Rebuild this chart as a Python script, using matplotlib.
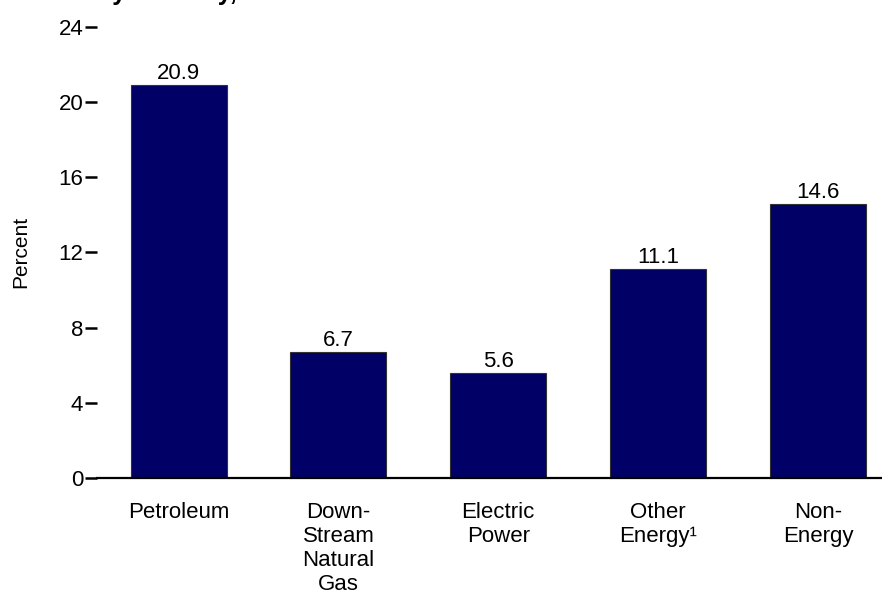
import matplotlib
matplotlib.use("Agg")
import matplotlib.pyplot as plt

plt.rcParams['font.family'] = ['Liberation Sans', 'DejaVu Sans']

# Data
categories = ["Petroleum", "Down-\nStream\nNatural\nGas", "Electric\nPower",
              "Other\nEnergy\u00b9", "Non-\nEnergy"]
values = [20.9, 6.7, 5.6, 11.1, 14.6]
y_ticks = [0, 4, 8, 12, 16, 20, 24]

bar_color = "#000066"

# Figure and axes
fig = plt.figure(figsize=(8.82, 5.96), dpi=100)
ax = fig.add_axes([0.110, 0.198, 0.890, 0.757])

x = list(range(len(values)))
bars = ax.bar(x, values, width=0.6, color=bar_color, edgecolor="#333333", linewidth=0.8)

# Value labels on top of bars
for xi, v in zip(x, values):
    ax.text(xi, v + 0.05, f"{v:.1f}", ha="center", va="bottom", fontsize=16)

ax.set_xlim(-0.51, 4.40)
ax.set_ylim(0, 24)
ax.set_yticks(y_ticks)
ax.set_yticklabels([str(t) for t in y_ticks], fontsize=16)
ax.set_xticks(x)
ax.set_xticklabels(categories, fontsize=16, linespacing=1.2)

ax.tick_params(axis="y", length=9, width=1.8, pad=1)
ax.tick_params(axis="x", length=0, pad=17)

for side in ["left", "right", "top"]:
    ax.spines[side].set_visible(False)
ax.spines["bottom"].set_linewidth(1.6)

ax.set_ylabel("Percent", fontsize=15, labelpad=20)

# Title, mostly cut off at the top of the image
fig.text(0.110, 1.0, "by Industry,", fontsize=18, fontweight="bold",
         ha="left", va="baseline")

plt.savefig("out.png", dpi=100)
